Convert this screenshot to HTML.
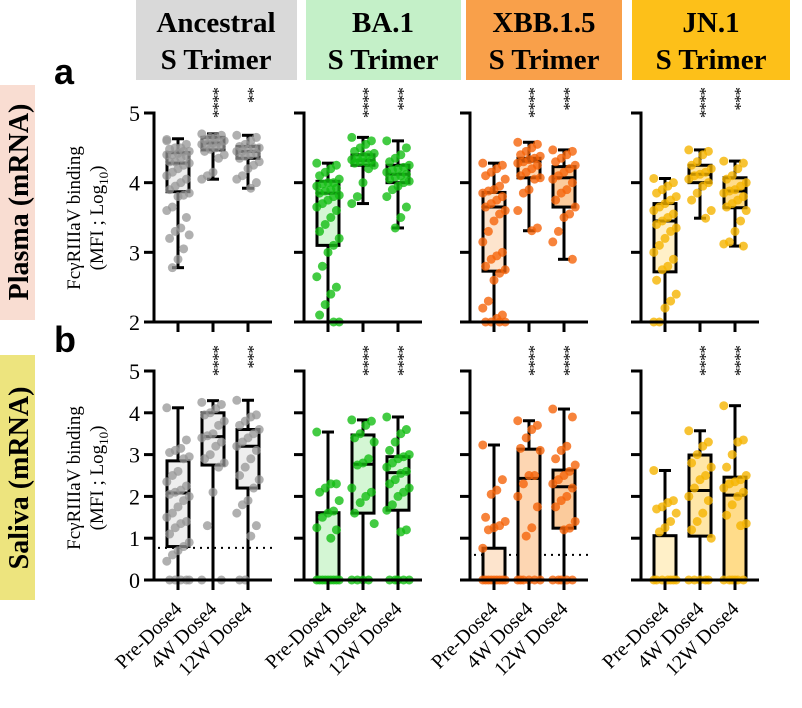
<!DOCTYPE html>
<html><head><meta charset="utf-8"><style>
body{margin:0;background:#fff;}
svg{display:block;font-family:"Liberation Serif",serif;}
</style></head><body>
<svg id="fig" width="802" height="708" viewBox="0 0 802 708">
<rect x="136" y="0" width="161" height="80" fill="#d9d9d9"/>
<rect x="306" y="0" width="155" height="80" fill="#c4f0c8"/>
<rect x="466" y="0" width="156" height="80" fill="#f9a04a"/>
<rect x="632" y="0" width="158" height="80" fill="#fdc019"/>
<g font-weight="bold" font-size="29" text-anchor="middle">
<text x="216" y="32">Ancestral<tspan x="216" dy="37">S Trimer</tspan></text>
<text x="383" y="32">BA.1<tspan x="383" dy="37">S Trimer</tspan></text>
<text x="544" y="32">XBB.1.5<tspan x="544" dy="37">S Trimer</tspan></text>
<text x="711" y="32">JN.1<tspan x="711" dy="37">S Trimer</tspan></text>
</g>
<text x="54" y="84" font-family="Liberation Sans,sans-serif" font-weight="bold" font-size="36">a</text>
<text x="54" y="352" font-family="Liberation Sans,sans-serif" font-weight="bold" font-size="36">b</text>
<rect x="0" y="85" width="35" height="235" fill="#f9ddd2"/>
<rect x="0" y="355" width="35" height="245" fill="#ede47e"/>
<text transform="translate(28,202) rotate(-90)" text-anchor="middle" font-weight="bold" font-size="28">Plasma (mRNA)</text>
<text transform="translate(28,478) rotate(-90)" text-anchor="middle" font-weight="bold" font-size="28">Saliva (mRNA)</text>
<text transform="translate(80,218) rotate(-90)" text-anchor="middle" font-size="19">FcγRIIIaV binding<tspan x="0" dy="23">(MFI ; Log</tspan><tspan font-size="13" dy="5">10</tspan><tspan dy="-5">)</tspan></text>
<text transform="translate(80,478) rotate(-90)" text-anchor="middle" font-size="19">FcγRIIIaV binding<tspan x="0" dy="23">(MFI ; Log</tspan><tspan font-size="13" dy="5">10</tspan><tspan dy="-5">)</tspan></text>
</svg>
<script>
const categories=["Pre-Dose4","4W Dose4","12W Dose4"];
const antigens=["ancestral","ba1","xbb","jn1"];
const plasmaTicks=[2,3,4,5];
const salivaTicks=[0,1,2,3,4,5];
// box stats [min,q1,median,q3,max]
const plasmaStats=[
[[2.78,3.87,4.28,4.43,4.63],[4.05,4.47,4.57,4.65,4.7],[3.92,4.35,4.45,4.52,4.68]],
[[2.0,3.1,3.85,4.02,4.28],[3.7,4.25,4.32,4.4,4.65],[3.35,4.0,4.12,4.25,4.6]],
[[2.0,2.73,3.65,3.86,4.28],[3.31,4.07,4.31,4.35,4.58],[2.9,3.65,4.07,4.23,4.47]],
[[2.0,2.72,3.45,3.7,4.06],[3.49,4.0,4.12,4.25,4.47],[3.09,3.64,3.88,4.07,4.31]]];
const salivaStats=[
[[0,0.8,2.08,2.85,4.12],[0,2.75,3.43,4.0,4.29],[0,2.2,3.2,3.6,4.3]],
[[0,0,0,1.61,3.54],[0,1.6,2.77,3.47,3.83],[0,1.67,2.57,2.95,3.9]],
[[0,0,0,0.76,3.23],[0,0,2.43,3.13,3.81],[0,1.24,2.23,2.63,4.09]],
[[0,0,0,1.06,2.62],[0,1.05,2.14,2.99,3.57],[0,0,2.03,2.46,4.17]]];
const plasmaPoints=[
[[4.6,4.55,4.5,4.5,4.48,4.45,4.45,4.42,4.4,4.4,4.38,4.35,4.3,4.3,4.28,4.25,4.2,4.15,4.1,4.05,4.0,3.95,3.9,3.85,3.82,3.8,3.65,3.6,3.5,3.35,3.3,3.2,3.25,3.05,2.9,2.78,4.62],
 [4.7,4.68,4.65,4.65,4.62,4.6,4.58,4.57,4.55,4.55,4.52,4.5,4.48,4.45,4.4,4.35,4.15,4.1,4.05],
 [4.68,4.65,4.6,4.55,4.52,4.5,4.5,4.48,4.45,4.45,4.42,4.4,4.38,4.35,4.3,4.25,4.2,4.1,4.05,4.0,3.92]],
[[4.28,4.25,4.2,4.15,4.1,4.05,4.0,4.0,3.98,3.95,3.92,3.9,3.88,3.85,3.82,3.8,3.75,3.7,3.65,3.6,3.5,3.4,3.3,3.2,3.1,3.0,2.8,2.65,2.5,2.4,2.25,2.1,2.0,2.0],
 [4.65,4.6,4.55,4.5,4.45,4.42,4.4,4.38,4.35,4.33,4.32,4.3,4.3,4.28,4.25,4.2,4.0,3.8,3.7],
 [4.6,4.5,4.4,4.35,4.3,4.25,4.22,4.2,4.18,4.15,4.12,4.1,4.08,4.05,4.02,4.0,3.95,3.9,3.8,3.65,3.5,3.35]],
[[4.28,4.25,4.2,4.15,4.1,4.05,3.95,3.9,3.88,3.85,3.8,3.75,3.7,3.65,3.6,3.55,3.45,3.3,3.15,3.0,2.95,2.9,2.8,2.75,2.7,2.6,2.3,2.2,2.1,2.05,2.0,2.0,2.0,2.0],
 [4.58,4.55,4.5,4.45,4.4,4.38,4.35,4.33,4.3,4.28,4.25,4.2,4.15,4.1,4.07,4.05,3.9,3.85,3.6,3.35,3.31],
 [4.47,4.45,4.4,4.35,4.3,4.25,4.2,4.15,4.1,4.05,4.0,3.9,3.85,3.75,3.65,3.55,3.5,3.3,3.15,2.9]],
[[4.06,4.0,3.95,3.9,3.85,3.8,3.75,3.7,3.65,3.6,3.55,3.5,3.45,3.4,3.35,3.3,3.2,3.1,3.0,2.9,2.8,2.75,2.6,2.4,2.3,2.2,2.0,2.0],
 [4.47,4.45,4.4,4.3,4.25,4.2,4.15,4.12,4.1,4.05,4.0,3.95,3.85,3.75,3.6,3.49],
 [4.31,4.28,4.2,4.1,4.05,4.0,3.95,3.9,3.88,3.85,3.8,3.75,3.7,3.65,3.6,3.45,3.3,3.15,3.12,3.09]]];
const salivaPoints=[
[[4.12,3.35,3.15,3.1,3.05,2.95,2.9,2.6,2.5,2.35,2.25,2.15,2.1,2.05,2.0,1.9,1.75,1.6,1.5,1.4,1.35,1.25,1.1,0.9,0.8,0.7,0.6,0.45,0,0,0,0,0],
 [4.25,4.2,4.1,4.0,3.95,3.8,3.7,3.5,3.45,3.4,3.3,3.2,3.0,2.9,2.8,2.7,2.1,1.3,0,0],
 [4.3,3.95,3.9,3.8,3.7,3.6,3.5,3.4,3.3,3.2,3.1,2.9,2.7,2.5,2.4,2.2,1.9,1.8,1.6,1.3,1.05,0,0]],
[[3.54,2.3,2.3,2.2,2.1,1.9,1.65,1.6,1.5,1.25,1.2,1.0,0,0,0,0,0,0,0,0,0],
 [3.83,3.8,3.7,3.5,3.4,3.3,2.9,2.8,2.75,2.2,2.1,2.0,1.85,1.6,1.35,0,0,0,0],
 [3.9,3.6,3.5,3.3,3.1,3.0,2.95,2.9,2.8,2.7,2.6,2.55,2.4,2.3,2.2,2.1,2.0,1.8,1.67,1.2,1.15,0,0,0,0,0]],
[[3.23,2.4,2.15,2.05,1.5,1.4,1.3,1.25,1.2,0.76,0,0,0,0,0,0,0,0,0],
 [3.81,3.7,3.6,3.4,3.15,3.1,2.5,2.5,2.3,2.0,1.75,1.25,1.05,0,0,0,0,0,0],
 [4.09,3.9,3.2,3.1,2.9,2.75,2.6,2.5,2.4,2.3,2.2,2.0,1.9,1.75,1.4,1.24,1.2,0,0,0,0,0]],
[[2.62,1.9,1.85,1.75,1.7,1.6,1.4,1.25,1.15,0,0,0,0,0,0,0],
 [3.57,3.3,3.2,3.0,2.8,2.7,2.5,2.4,2.2,2.0,1.9,1.6,1.4,1.2,1.0,0,0,0,0,0],
 [4.17,3.35,3.3,3.0,2.7,2.5,2.4,2.35,2.3,2.2,2.1,2.0,1.8,1.55,1.35,1.3,0,0,0,0,0,0]]];
const plasmaSig=[["","****","**"],["","****","***"],["","****","***"],["","****","***"]];
const salivaSig=[["","****","***"],["","****","****"],["","****","****"],["","****","****"]];
const plasmaLOD=[2,2,2,2];
const salivaLOD=[0.77,0,0.6,0];

const axisX=[154,304,470,641];
const catOff=[24,59,94];
const axisLen=118;
const pointColor=["rgba(150,150,150,0.75)","rgba(20,190,20,0.8)","rgba(245,100,10,0.8)","rgba(245,180,0,0.8)"];
const boxFill=[["#eeeeee","#eeeeee","#eeeeee"],["#d4f6d4","#d4f6d4","#d4f6d4"],["#fde4cd","#fdd6b2","#fbcb9c"],["#fff0c8","#ffe6a6","#ffdc8a"]];

const svg=document.getElementById('fig');
const NS="http://www.w3.org/2000/svg";
function mk(tag,attrs,parent){const e=document.createElementNS(NS,tag);for(const k in attrs)e.setAttribute(k,attrs[k]);(parent||svg).appendChild(e);return e;}

function drawRow(row){
  const isP=row==='plasma';
  const yTop=isP?113:371, yBot=isP?322:580;
  const dmin=isP?2:0, dmax=5;
  const y=v=>yBot-(v-dmin)/(dmax-dmin)*(yBot-yTop);
  const ticks=isP?plasmaTicks:salivaTicks;
  const stats=isP?plasmaStats:salivaStats;
  const pts=isP?plasmaPoints:salivaPoints;
  const sig=isP?plasmaSig:salivaSig;
  const lod=isP?plasmaLOD:salivaLOD;
  antigens.forEach((ag,a)=>{
    const ax=axisX[a];
    const g=mk('g',{});
    
    
    const ld=mk('line',{x1:ax+4,x2:ax+axisLen,y1:y(lod[a]),y2:y(lod[a]),stroke:'#000','stroke-width':2,'stroke-dasharray':'2 5'},g);
    
    
    categories.forEach((c,ci)=>{
      const cx=ax+catOff[ci];
      const s=stats[a][ci];
      const bg=mk('g',{},g);
      
      
      mk('line',{x1:cx,x2:cx,y1:y(s[0]),y2:y(s[4]),stroke:'#000','stroke-width':3},bg);
      mk('rect',{x:cx-11,y:y(s[3]),width:22,height:Math.max(0,y(s[1])-y(s[3])),fill:boxFill[a][ci],stroke:'#000','stroke-width':3},bg);
      mk('line',{x1:cx-6,x2:cx+6,y1:y(s[4]),y2:y(s[4]),stroke:'#000','stroke-width':3},bg);
      mk('line',{x1:cx-6,x2:cx+6,y1:y(s[0]),y2:y(s[0]),stroke:'#000','stroke-width':3},bg);
      mk('line',{x1:cx-11,x2:cx+11,y1:y(s[2]),y2:y(s[2]),stroke:'#000','stroke-width':3},bg);
      pts[a][ci].forEach((v,i)=>{
        const jx=((i*7)%9-4)*2.8;
        const p=mk('circle',{cx:cx+jx,cy:y(v),r:4.5,fill:pointColor[a]},g);
        
        
      });
      if(sig[a][ci]){
        const t=mk('text',{transform:`translate(${cx-5},${yTop-26}) rotate(90)`,'font-size':17,'text-anchor':'start','letter-spacing':'-1'},g);
        t.textContent=sig[a][ci];
        
        
      }
      mk('line',{x1:cx,x2:cx,y1:yBot,y2:yBot+10,stroke:'#000','stroke-width':3},g);
      if(!isP){
        const lt=mk('text',{transform:`translate(${cx+5},${yBot+30}) rotate(-45)`,'font-size':20,'text-anchor':'end'},g);
        lt.textContent=c;
        
        
      }
    });
    const ya=mk('line',{x1:ax,x2:ax,y1:yTop-1.5,y2:yBot+1.5,stroke:'#000','stroke-width':3},g);
    
    
    const xa=mk('line',{x1:ax,x2:ax+axisLen,y1:yBot,y2:yBot,stroke:'#000','stroke-width':3},g);
    
    
    ticks.forEach(tv=>{
      mk('line',{x1:ax-10,x2:ax,y1:y(tv),y2:y(tv),stroke:'#000','stroke-width':3},g);
      if(a===0){
        const tl=mk('text',{x:ax-14,y:y(tv)+8,'font-size':22,'text-anchor':'end'},g);
        tl.textContent=tv;
        
        
      }
    });
  });
}
drawRow('plasma');
drawRow('saliva');
</script>
</body></html>
